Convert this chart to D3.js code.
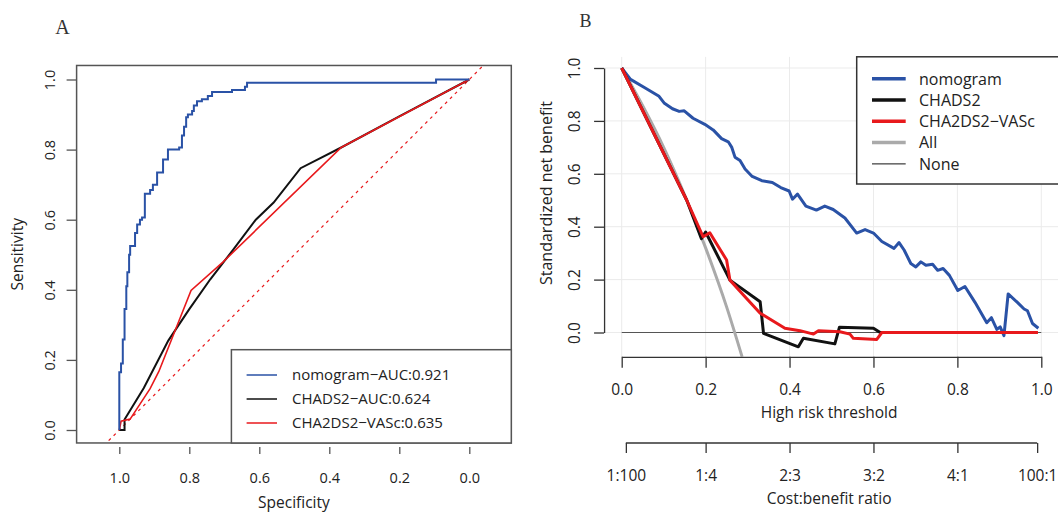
<!DOCTYPE html>
<html>
<head>
<meta charset="utf-8">
<script src="https://cdnjs.cloudflare.com/ajax/libs/d3/7.8.5/d3.min.js"></script>
<style>
  body { margin: 0; background: #fff; }
  svg text { font-family: "Open Sans", "Noto Sans", sans-serif; fill: #222; }
</style>
</head>
<body>
<script>
// ---- panel A : ROC curves (specificity, sensitivity) ----
var rocNomSpec = [1, 1, 0.995, 0.99, 0.985, 0.98, 0.977, 0.972, 0.969, 0.955, 0.949, 0.941, 0.935, 0.927, 0.927, 0.912, 0.904, 0.892, 0.875, 0.861, 0.829, 0.821, 0.815, 0.809, 0.804, 0.792, 0.787, 0.778, 0.764, 0.747, 0.735, 0.678, 0.641, 0.635, 0.095, 0];
var rocNomSens = [0, 0.165, 0.19, 0.258, 0.345, 0.41, 0.45, 0.5, 0.525, 0.562, 0.586, 0.6, 0.606, 0.632, 0.674, 0.685, 0.70, 0.735, 0.772, 0.80, 0.806, 0.84, 0.865, 0.892, 0.90, 0.91, 0.926, 0.938, 0.944, 0.953, 0.964, 0.97, 0.979, 0.991, 1, 1];
var rocChadsSpec = [1, 0.985, 0.985, 0.93, 0.86, 0.80, 0.74, 0.675, 0.61, 0.559, 0.482, 0.366, 0.2, 0];
var rocChadsSens = [0, 0, 0.03, 0.12, 0.255, 0.345, 0.43, 0.514, 0.6, 0.649, 0.747, 0.806, 0.895, 1];
var rocVascSpec = [1, 0.995, 0.969, 0.912, 0.887, 0.795, 0.704, 0.366, 0];
var rocVascSens = [0, 0.025, 0.031, 0.118, 0.167, 0.398, 0.479, 0.806, 1];
var rocLegend = ['nomogram\u2212AUC:0.921', 'CHADS2\u2212AUC:0.624', 'CHA2DS2\u2212VASc:0.635'];
var axisTicks = [0, 0.2, 0.4, 0.6, 0.8, 1.0];

// ---- panel B : decision curves (threshold, standardized net benefit) ----
var dcaNomThr = [0, 0.021, 0.053, 0.089, 0.101, 0.121, 0.137, 0.149, 0.170, 0.198, 0.218, 0.238, 0.254, 0.262, 0.270, 0.282, 0.294, 0.311, 0.334, 0.359, 0.379, 0.399, 0.407, 0.419, 0.439, 0.464, 0.484, 0.504, 0.532, 0.560, 0.580, 0.600, 0.620, 0.649, 0.661, 0.673, 0.689, 0.701, 0.713, 0.725, 0.741, 0.753, 0.766, 0.781, 0.801, 0.818, 0.842, 0.870, 0.881, 0.894, 0.902, 0.911, 0.921, 0.943, 0.959, 0.967, 0.979, 0.993];
var dcaNomNB  = [1, 0.957, 0.927, 0.893, 0.868, 0.846, 0.836, 0.838, 0.810, 0.787, 0.766, 0.733, 0.721, 0.701, 0.663, 0.650, 0.618, 0.590, 0.574, 0.567, 0.548, 0.535, 0.504, 0.523, 0.478, 0.463, 0.478, 0.465, 0.433, 0.376, 0.389, 0.376, 0.344, 0.318, 0.340, 0.312, 0.261, 0.248, 0.267, 0.254, 0.258, 0.235, 0.242, 0.216, 0.159, 0.174, 0.114, 0.037, 0.056, 0.012, 0.021, -0.012, 0.146, 0.114, 0.089, 0.082, 0.034, 0.016];
var dcaChadsThr = [0, 0.155, 0.190, 0.200, 0.258, 0.330, 0.338, 0.421, 0.433, 0.508, 0.519, 0.600, 0.616, 0.99];
var dcaChadsNB  = [1, 0.50, 0.355, 0.38, 0.198, 0.116, -0.003, -0.054, -0.022, -0.043, 0.020, 0.016, 0, 0];
var dcaVascThr = [0, 0.155, 0.194, 0.210, 0.250, 0.258, 0.290, 0.330, 0.389, 0.425, 0.457, 0.469, 0.520, 0.544, 0.552, 0.608, 0.620, 0.992];
var dcaVascNB  = [1, 0.50, 0.362, 0.377, 0.274, 0.198, 0.142, 0.073, 0.016, 0.007, -0.006, 0.007, 0.003, -0.006, -0.022, -0.026, 0, 0];
var dcaAllThr = [0, 0.05, 0.10, 0.15, 0.20, 0.25, 0.287];
var dcaAllNB  = [1, 0.857, 0.70, 0.52, 0.32, 0.097, -0.092];
var dcaNoneThr = [0, 1];
var dcaNoneNB  = [0, 0];
var dcaLegend = ['nomogram', 'CHADS2', 'CHA2DS2\u2212VASc', 'All', 'None'];
var costTicks = [1 / 101, 0.2, 0.4, 0.6, 0.8, 100 / 101];
var costLabels = ['1:100', '1:4', '2:3', '3:2', '4:1', '100:1'];

var BLUE = '#2a52a6', RED = '#e8191c', GREY = '#aaaaaa';

var svg = d3.select('body').append('svg').attr('width', 1058).attr('height', 513);
svg.append('rect').attr('width', 1058).attr('height', 513).attr('fill', '#fff');

function pts(xs, ys) { return xs.map(function(x, i) { return [x, ys[i]]; }); }

// ================= Panel A =================
var xA = d3.scaleLinear().domain([1, 0]).range([119.3, 469.3]);
var yA = d3.scaleLinear().domain([0, 1]).range([430, 79.5]);
var boxA = { x0: xA(1.122), x1: xA(-0.12), y0: yA(1.04), y1: yA(-0.037) };
var gA = svg.append('g');

svg.append('text').text('A').attr('x', 62.5).attr('y', 34).attr('text-anchor', 'middle')
  .style('font-family', '"Liberation Serif", "DejaVu Serif", serif').style('font-size', '20px').style('fill', '#333');

gA.append('clipPath').attr('id', 'clipA').append('rect')
  .attr('x', boxA.x0).attr('y', boxA.y0).attr('width', boxA.x1 - boxA.x0).attr('height', boxA.y1 - boxA.y0);

// diagonal reference
gA.append('line').attr('clip-path', 'url(#clipA)')
  .attr('x1', xA(1.2)).attr('y1', yA(-0.2)).attr('x2', xA(-0.2)).attr('y2', yA(1.2))
  .attr('stroke', RED).attr('stroke-width', 1.2).attr('stroke-dasharray', '3,4');

var lineA = d3.line().x(function(d) { return xA(d[0]); }).y(function(d) { return yA(d[1]); });
gA.append('path').datum(pts(rocChadsSpec, rocChadsSens)).attr('d', lineA)
  .attr('fill', 'none').attr('stroke', '#111').attr('stroke-width', 2);
gA.append('path').datum(pts(rocVascSpec, rocVascSens)).attr('d', lineA)
  .attr('fill', 'none').attr('stroke', RED).attr('stroke-width', 1.6);
gA.append('path').datum(pts(rocNomSpec, rocNomSens)).attr('d', lineA.curve(d3.curveStepAfter))
  .attr('fill', 'none').attr('stroke', BLUE).attr('stroke-width', 2);

// box
gA.append('rect').attr('x', boxA.x0).attr('y', boxA.y0)
  .attr('width', boxA.x1 - boxA.x0).attr('height', boxA.y1 - boxA.y0)
  .attr('fill', 'none').attr('stroke', '#555').attr('stroke-width', 1.5);

// axes
var axLA = gA.append('g').attr('transform', 'translate(' + boxA.x0 + ',0)')
  .call(d3.axisLeft(yA).tickValues(axisTicks).tickFormat(d3.format('.1f')).tickSize(10));
var axBA = gA.append('g').attr('transform', 'translate(0,447)')
  .call(d3.axisBottom(xA).tickValues(axisTicks).tickFormat(d3.format('.1f')).tickSize(7));
[axLA, axBA].forEach(function(a) {
  a.select('.domain').remove();
  a.selectAll('line').attr('stroke', '#555').attr('stroke-width', 1.3);
  a.selectAll('text').style('font-size', '14.5px').style('fill', '#222');
});
axLA.selectAll('text').attr('x', null).attr('dy', null).attr('text-anchor', 'middle')
  .attr('transform', 'translate(-22,0) rotate(-90)');
axBA.selectAll('text').attr('y', null).attr('dy', null).attr('transform', 'translate(0,36)');

gA.append('text').text('Specificity').attr('x', (boxA.x0 + boxA.x1) / 2).attr('y', 508)
  .attr('text-anchor', 'middle').style('font-size', '15.5px');
gA.append('text').text('Sensitivity').attr('text-anchor', 'middle')
  .attr('transform', 'translate(23,' + (boxA.y0 + boxA.y1) / 2 + ') rotate(-90)').style('font-size', '15.5px');

// legend A
var legA = gA.append('g');
legA.append('rect').attr('x', 231.4).attr('y', 349.7).attr('width', boxA.x1 - 231.4).attr('height', boxA.y1 - 349.7)
  .attr('fill', '#fff').attr('stroke', '#555').attr('stroke-width', 1.5);
var legAColors = [BLUE, '#111', RED];
rocLegend.forEach(function(t, i) {
  var y = 375 + i * 24;
  legA.append('line').attr('x1', 246.6).attr('x2', 277).attr('y1', y).attr('y2', y)
    .attr('stroke', legAColors[i]).attr('stroke-width', 1.5);
  legA.append('text').text(t).attr('x', 292).attr('y', y + 5.2).style('font-size', '15px');
});

// ================= Panel B =================
var xB = d3.scaleLinear().domain([0, 1]).range([621.7, 1041.3]);
var yB = d3.scaleLinear().domain([0, 1]).range([332.5, 68]);
var plotB = { x0: xB(-0.042), x1: xB(1.045), y0: yB(1.042), y1: yB(-0.092) };
var gB = svg.append('g');

svg.append('text').text('B').attr('x', 579.5).attr('y', 27)
  .style('font-family', '"Liberation Serif", "DejaVu Serif", serif').style('font-size', '18px').style('fill', '#333');

gB.append('clipPath').attr('id', 'clipB').append('rect')
  .attr('x', plotB.x0).attr('y', plotB.y0).attr('width', plotB.x1 - plotB.x0).attr('height', plotB.y1 - plotB.y0);

// grid
axisTicks.forEach(function(v) {
  gB.append('line').attr('x1', xB(v)).attr('x2', xB(v)).attr('y1', plotB.y0).attr('y2', plotB.y1)
    .attr('stroke', '#ebebeb').attr('stroke-width', 1);
  gB.append('line').attr('x1', plotB.x0).attr('x2', plotB.x1).attr('y1', yB(v)).attr('y2', yB(v))
    .attr('stroke', '#ebebeb').attr('stroke-width', 1);
});

var lineB = d3.line().x(function(d) { return xB(d[0]); }).y(function(d) { return yB(d[1]); });
var curves = gB.append('g').attr('clip-path', 'url(#clipB)');
curves.append('path').datum(pts(dcaNoneThr, dcaNoneNB)).attr('d', lineB)
  .attr('fill', 'none').attr('stroke', '#555').attr('stroke-width', 1.2);
curves.append('path').datum(pts(dcaAllThr, dcaAllNB)).attr('d', lineB.curve(d3.curveMonotoneX))
  .attr('fill', 'none').attr('stroke', GREY).attr('stroke-width', 3);
lineB.curve(d3.curveLinear);
curves.append('path').datum(pts(dcaNomThr, dcaNomNB)).attr('d', lineB)
  .attr('fill', 'none').attr('stroke', BLUE).attr('stroke-width', 3).attr('stroke-linejoin', 'round');
curves.append('path').datum(pts(dcaChadsThr, dcaChadsNB)).attr('d', lineB)
  .attr('fill', 'none').attr('stroke', '#111').attr('stroke-width', 3).attr('stroke-linejoin', 'round');
curves.append('path').datum(pts(dcaVascThr, dcaVascNB)).attr('d', lineB)
  .attr('fill', 'none').attr('stroke', RED).attr('stroke-width', 3).attr('stroke-linejoin', 'round');

// y axis
var axLB = gB.append('g').attr('transform', 'translate(' + plotB.x0 + ',0)')
  .call(d3.axisLeft(yB).tickValues(axisTicks).tickFormat(d3.format('.1f')).tickSize(10).tickSizeOuter(0));
axLB.selectAll('text').attr('x', null).attr('dy', null).attr('text-anchor', 'middle')
  .attr('transform', 'translate(-24,0) rotate(-90)');
// threshold axis
var axTB = gB.append('g').attr('transform', 'translate(0,' + plotB.y1 + ')')
  .call(d3.axisBottom(xB).tickValues(axisTicks).tickFormat(d3.format('.1f')).tickSize(11).tickSizeOuter(0));
axTB.selectAll('text').attr('y', null).attr('dy', null).attr('transform', 'translate(0,38.5)');
// cost:benefit axis
var axCB = gB.append('g').attr('transform', 'translate(0,443)')
  .call(d3.axisBottom(xB).tickValues(costTicks).tickFormat(function(d, i) { return costLabels[i]; }).tickSize(10).tickSizeOuter(0));
axCB.select('.domain').attr('d', 'M' + xB(costTicks[0]) + ',0H' + xB(costTicks[5]));
axCB.selectAll('text').attr('y', null).attr('dy', null).attr('transform', 'translate(0,38)');
[axLB, axTB, axCB].forEach(function(a) {
  a.selectAll('line, .domain').attr('stroke', '#333').attr('stroke-width', 1.3);
  a.selectAll('text').style('font-size', '15.5px').style('fill', '#222');
});

gB.append('text').text('High risk threshold').attr('x', (plotB.x0 + plotB.x1) / 2 - 3).attr('y', 418)
  .attr('text-anchor', 'middle').style('font-size', '15.5px');
gB.append('text').text('Cost:benefit ratio').attr('x', (plotB.x0 + plotB.x1) / 2 - 3).attr('y', 504)
  .attr('text-anchor', 'middle').style('font-size', '15.5px');
gB.append('text').text('Standardized net benefit').attr('text-anchor', 'middle')
  .attr('transform', 'translate(552,193) rotate(-90)').style('font-size', '16px');

// legend B
var legB = gB.append('g');
legB.append('rect').attr('x', 856.7).attr('y', 56.8).attr('width', 210).attr('height', 127.2)
  .attr('fill', '#fff').attr('stroke', '#333').attr('stroke-width', 1.5);
var legBColors = [BLUE, '#111', RED, GREY, '#111'];
var legBWidths = [3.5, 3.5, 3.5, 3.5, 1];
dcaLegend.forEach(function(t, i) {
  var y = 78.7 + i * 21.3;
  legB.append('line').attr('x1', 872).attr('x2', 905.7).attr('y1', y).attr('y2', y)
    .attr('stroke', legBColors[i]).attr('stroke-width', legBWidths[i]);
  legB.append('text').text(t).attr('x', 919).attr('y', y + 5.8).style('font-size', '16px');
});
</script>
</body>
</html>
